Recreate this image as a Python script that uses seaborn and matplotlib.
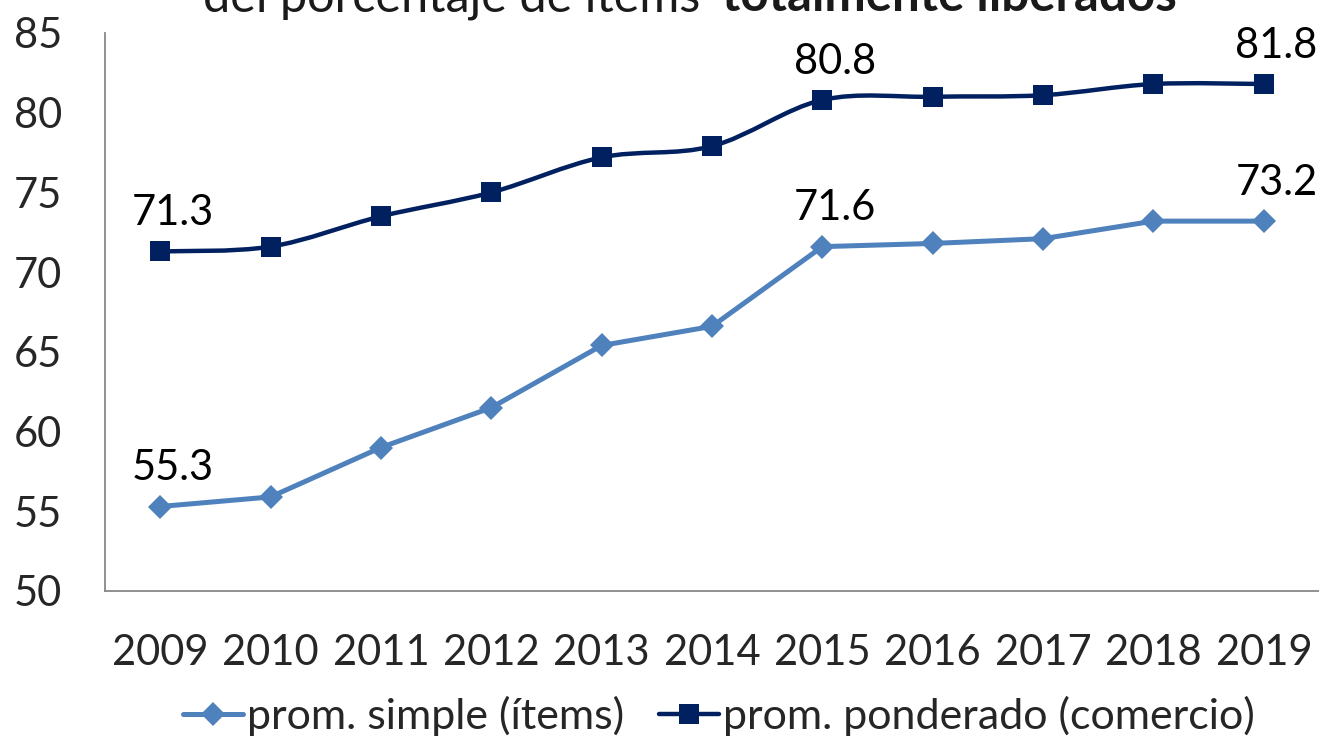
import numpy as np
import pandas as pd
import matplotlib
matplotlib.use("Agg")
import matplotlib.pyplot as plt
import seaborn as sns
from matplotlib.path import Path
from matplotlib.patches import PathPatch
from matplotlib.lines import Line2D

years = ["2009", "2010", "2011", "2012", "2013", "2014", "2015", "2016", "2017", "2018", "2019"]
simple = [55.3, 55.9, 59.0, 61.5, 65.4, 66.6, 71.6, 71.8, 72.1, 73.2, 73.2]
ponderado = [71.3, 71.6, 73.5, 75.0, 77.2, 77.9, 80.8, 81.0, 81.1, 81.8, 81.8]
label_idx = [0, 6, 10]
yticks = [50, 55, 60, 65, 70, 75, 80, 85]

name_simple = "prom. simple (ítems)"
name_pond = "prom. ponderado (comercio)"
title_normal = "del porcentaje de ítems"
title_bold = "totalmente liberados"

c_simple = "#4F81BD"
c_pond = "#002060"

sns.set_theme(style="white")
plt.rcParams["font.family"] = ["Lato", "DejaVu Sans"]

FS = 30

fig = plt.figure(figsize=(13.19, 7.39), dpi=100)
ax = fig.add_axes([105 / 1319, 1 - 591 / 739, 1 - 105 / 1319, (591 - 33) / 739])

x = np.arange(len(years))
df = pd.DataFrame({"x": x, "simple": simple, "ponderado": ponderado})

# simple series: straight lines with diamonds
sns.lineplot(data=df, x="x", y="simple", ax=ax, color=c_simple, lw=3.6,
             marker="D", markersize=12, markeredgewidth=0, zorder=3)

# ponderado series: smoothed (Catmull-Rom style bezier like Excel)
pts = np.column_stack([x, ponderado]).astype(float)
verts = [tuple(pts[0])]
codes = [Path.MOVETO]
n = len(pts)
for i in range(n - 1):
    p0 = pts[i - 1] if i > 0 else pts[i]
    p1 = pts[i]
    p2 = pts[i + 1]
    p3 = pts[i + 2] if i + 2 < n else pts[i + 1]
    c1 = p1 + (p2 - p0) / 6.0
    c2 = p2 - (p3 - p1) / 6.0
    verts += [tuple(c1), tuple(c2), tuple(p2)]
    codes += [Path.CURVE4] * 3
ax.add_patch(PathPatch(Path(verts, codes), facecolor="none", edgecolor=c_pond,
                       lw=3.2, zorder=3, capstyle="round"))
sns.scatterplot(data=df, x="x", y="ponderado", ax=ax, color=c_pond, marker="s",
                s=15 ** 2, linewidth=0, zorder=4)

# data labels
for i in label_idx:
    for vals in (simple, ponderado):
        ax.annotate(f"{vals[i]:.1f}", (x[i], vals[i]), xytext=(9, 14),
                    textcoords="offset points", ha="center", va="bottom",
                    fontsize=FS, color="black")

ax.set_xlim(-0.5, len(years) - 0.5)
ax.set_ylim(50, 85)
ax.set_yticks(yticks)
ax.set_yticklabels([str(t) for t in yticks])
ax.set_xticks(np.arange(len(years) + 1) - 0.5)
ax.set_xticklabels([])
ax.set_xticks(x, minor=True)
ax.set_xticklabels(years, minor=True)
ax.tick_params(axis="x", which="major", length=12, width=1.3, color="#888888", direction="out")
ax.tick_params(axis="x", which="minor", length=0, pad=31, labelsize=FS)
ax.tick_params(axis="y", length=11, width=1.3, color="#888888", direction="out",
               labelsize=FS, pad=20)
ax.set_xlabel("")
ax.set_ylabel("")
for s in ["top", "right"]:
    ax.spines[s].set_visible(False)
for s in ["left", "bottom"]:
    ax.spines[s].set_color("#888888")
    ax.spines[s].set_linewidth(1.3)
ax.grid(False)

# clipped title at top (as in the reference)
fig.text(700 / 1319, 1 - 11 / 739, title_normal, ha="right", va="baseline",
         fontsize=35, color="#1a1a1a")
fig.text(722 / 1319, 1 - 11 / 739, title_bold, ha="left", va="baseline",
         fontsize=35.5, fontweight="bold", color="#1a1a1a")

handles = [
    Line2D([], [], color=c_simple, lw=3.6, marker="D", markersize=12, markeredgewidth=0),
    Line2D([], [], color=c_pond, lw=3.2, marker="s", markersize=15, markeredgewidth=0),
]
fig.legend(handles, [name_simple, name_pond], loc="center", bbox_to_anchor=(0.545, 1 - 716 / 739),
           ncol=2, frameon=False, fontsize=31, handlelength=1.4, handletextpad=0.1,
           columnspacing=0.8)

fig.savefig("out.png", dpi=100)
